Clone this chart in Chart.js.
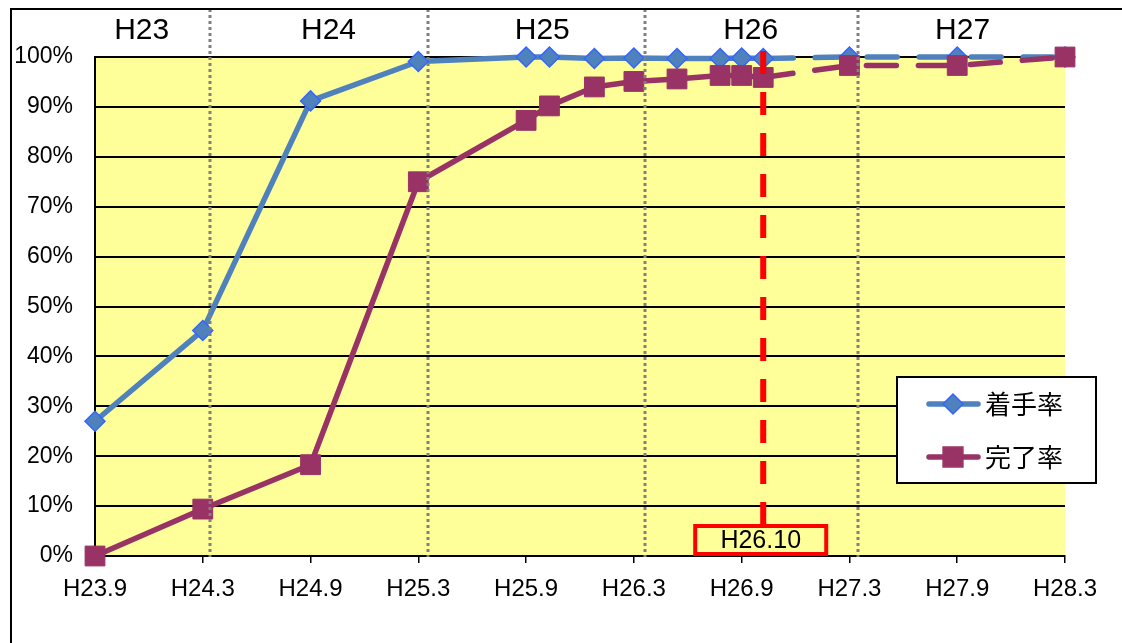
<!DOCTYPE html>
<html lang="ja">
<head>
<meta charset="utf-8">
<title>着手率・完了率の推移</title>
<script src="https://cdn.jsdelivr.net/npm/chart.js@4.4.1/dist/chart.umd.min.js"></script>
<style>
  html, body { margin: 0; padding: 0; background: #ffffff; }
  canvas { display: block; }
</style>
</head>
<body>
<canvas id="progress" width="1122" height="643"></canvas>
<script>
// Months counted from H23.9 (H23.9 = 0)
const monthIndex = [0, 6, 12, 18, 24, 25.3, 27.8, 30, 32.4, 34.8, 36, 37.2, 42, 48, 54];
// 着手率 (%)
const startRate = [27, 45.2, 91.2, 99.1, 100, 100, 99.7, 99.8, 99.7, 99.7, 99.8, 99.7, 100, 100, 100];
// 完了率 (%)
const completeRate = [0, 9.4, 18.3, 75, 87.3, 90.2, 94.0, 95.1, 95.6, 96.3, 96.3, 95.9, 98.3, 98.3, 100];
// x axis tick labels, one every 6 months
const tickLabels = ['H23.9', 'H24.3', 'H24.9', 'H25.3', 'H25.9', 'H26.3', 'H26.9', 'H27.3', 'H27.9', 'H28.3'];
const tickStep = 6;
// fiscal year headings and where they sit on the month axis
const fiscalYears = ['H23', 'H24', 'H25', 'H26', 'H27'];
const fiscalYearLabelAt = [2.6, 13.0, 24.9, 36.5, 48.3];
const fiscalYearBoundaries = [6.4, 18.55, 30.6, 42.5];
// last actual point; everything after it is the plan (dashed)
const currentIndex = 11;
const currentLabel = 'H26.10';
const seriesNames = ['着手率', '完了率'];

const BLUE = '#4F81BD';
const BLUE_EDGE = '#3366FF';
const PLUM = '#993366';
const LATIN = '"Liberation Sans", Arial, sans-serif';
const CJK = '"Noto Sans CJK JP", "Noto Sans", sans-serif';

const toPoints = vals => vals.map((v, i) => ({ x: monthIndex[i], y: v }));
const planDash = ctx => ctx.p0DataIndex >= currentIndex ? [30, 22] : undefined;

const decorations = {
  id: 'decorations',
  beforeDraw(chart) {
    const { ctx, chartArea: a } = chart;
    ctx.save();
    ctx.fillStyle = '#FFFF99';
    ctx.fillRect(a.left, a.top, a.right - a.left, a.bottom - a.top);
    ctx.restore();
  },
  afterDatasetsDraw(chart) {
    const { ctx, chartArea: a, scales: { x, y } } = chart;
    ctx.save();
    // fiscal year boundaries
    ctx.strokeStyle = '#808080';
    ctx.lineWidth = 3;
    ctx.setLineDash([3, 3]);
    fiscalYearBoundaries.forEach(m => {
      const px = Math.round(x.getPixelForValue(m));
      ctx.beginPath();
      ctx.moveTo(px, 9);
      ctx.lineTo(px, a.bottom + 1);
      ctx.stroke();
    });

    // current month marker and its label box
    const cx = x.getPixelForValue(monthIndex[currentIndex]);
    const boxW = 131, boxH = 28;
    const boxCx = cx - 2.5;
    const boxTop = a.bottom - 32;
    ctx.strokeStyle = '#FF0000';
    ctx.lineWidth = 6;
    ctx.setLineDash([23, 18]);
    ctx.beginPath();
    ctx.moveTo(cx, y.getPixelForValue(101.2));
    ctx.lineTo(cx, boxTop);
    ctx.stroke();
    ctx.setLineDash([]);
    ctx.lineWidth = 4;
    ctx.strokeRect(boxCx - boxW / 2, boxTop + 2, boxW, boxH);
    ctx.fillStyle = '#000000';
    ctx.font = '25px ' + LATIN;
    ctx.textAlign = 'center';
    ctx.textBaseline = 'middle';
    ctx.fillText(currentLabel, boxCx, boxTop + 2 + boxH / 2 + 1);
    ctx.restore();
  },
  afterDraw(chart) {
    const { ctx, scales: { x } } = chart;
    ctx.save();
    // outer frame
    ctx.strokeStyle = '#000000';
    ctx.lineWidth = 2;
    ctx.beginPath();
    ctx.moveTo(1122, 9);
    ctx.lineTo(11, 9);
    ctx.lineTo(11, 643);
    ctx.stroke();

    // fiscal year headings
    ctx.fillStyle = '#000000';
    ctx.font = '30px ' + LATIN;
    ctx.textAlign = 'center';
    ctx.textBaseline = 'middle';
    fiscalYears.forEach((t, i) => {
      ctx.fillText(t, x.getPixelForValue(fiscalYearLabelAt[i]), 31);
    });

    // legend
    const lx = 897, ly = 377, lw = 199, lh = 106;
    ctx.fillStyle = '#ffffff';
    ctx.fillRect(lx, ly, lw, lh);
    ctx.strokeStyle = '#000000';
    ctx.lineWidth = 2;
    ctx.strokeRect(lx, ly, lw, lh);
    const rows = [
      { name: seriesNames[0], y: 404, color: BLUE, edge: BLUE_EDGE, style: 'rectRot', r: 10 },
      { name: seriesNames[1], y: 457, color: PLUM, edge: PLUM, style: 'rect', r: 14 }
    ];
    rows.forEach(row => {
      ctx.strokeStyle = row.color;
      ctx.lineWidth = 5.5;
      ctx.lineCap = 'round';
      ctx.beginPath();
      ctx.moveTo(929, row.y);
      ctx.lineTo(978, row.y);
      ctx.stroke();
      ctx.fillStyle = row.color;
      ctx.strokeStyle = row.edge;
      ctx.lineWidth = 1.5;
      Chart.helpers.drawPoint(ctx, { pointStyle: row.style, radius: row.r, rotation: 0, borderWidth: 1.5 }, 953, row.y);
      ctx.fillStyle = '#000000';
      ctx.font = '26px ' + CJK;
      ctx.textAlign = 'left';
      ctx.textBaseline = 'middle';
      ctx.fillText(row.name, 985, row.y);
    });
    ctx.restore();
  }
};

new Chart(document.getElementById('progress'), {
  type: 'line',
  data: {
    datasets: [
      {
        label: seriesNames[0],
        data: toPoints(startRate),
        borderColor: BLUE,
        backgroundColor: BLUE,
        borderWidth: 5.5,
        borderCapStyle: 'round',
        borderJoinStyle: 'round',
        pointStyle: 'rectRot',
        pointRadius: 10,
        pointBackgroundColor: BLUE,
        pointBorderColor: BLUE_EDGE,
        pointBorderWidth: 1.5,
        segment: { borderDash: planDash },
        tension: 0,
        clip: false,
        order: 1
      },
      {
        label: seriesNames[1],
        data: toPoints(completeRate),
        borderColor: PLUM,
        backgroundColor: PLUM,
        borderWidth: 5.5,
        borderCapStyle: 'round',
        borderJoinStyle: 'round',
        pointStyle: 'rect',
        pointRadius: 14,
        pointBackgroundColor: PLUM,
        pointBorderColor: PLUM,
        pointBorderWidth: 1,
        segment: { borderDash: planDash },
        tension: 0,
        clip: false,
        order: 0
      }
    ]
  },
  options: {
    responsive: false,
    animation: false,
    events: [],
    layout: { padding: { left: 0, top: 57, right: 57, bottom: 47 } },
    plugins: {
      legend: { display: false },
      tooltip: { enabled: false }
    },
    scales: {
      x: {
        type: 'linear',
        min: 0,
        max: 54,
        afterFit(scale) { scale.height = 40; },
        afterBuildTicks(scale) {
          scale.ticks = tickLabels.map((_, i) => ({ value: i * tickStep }));
        },
        ticks: {
          stepSize: tickStep,
          autoSkip: false,
          maxRotation: 0,
          padding: 12,
          color: '#000000',
          font: { family: LATIN, size: 24 },
          callback: v => tickLabels[Math.round(v / tickStep)]
        },
        grid: {
          drawOnChartArea: false,
          drawTicks: true,
          tickLength: 7,
          color: '#000000',
          lineWidth: 1.5
        },
        border: { display: true, color: '#000000', width: 2 }
      },
      y: {
        min: 0,
        max: 100,
        afterFit(scale) { scale.width = 95; },
        ticks: {
          stepSize: 10,
          padding: 22,
          color: '#000000',
          font: { family: LATIN, size: 23 },
          callback: v => v + '%'
        },
        grid: {
          drawTicks: false,
          color: '#000000',
          lineWidth: 2
        },
        border: { display: true, color: '#000000', width: 2 }
      }
    }
  },
  plugins: [decorations]
});
</script>
</body>
</html>
